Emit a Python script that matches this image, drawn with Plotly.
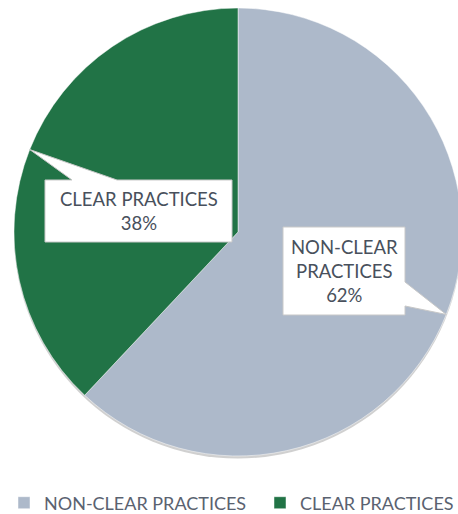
import math
import plotly.graph_objects as go

# ---- data ----
categories = ["NON-CLEAR PRACTICES", "CLEAR PRACTICES"]
values = [62, 38]
label_lines = [["NON-CLEAR", "PRACTICES"], ["CLEAR PRACTICES"]]
colors = ["#ADB9CA", "#217346"]

# ---- layout constants (pixels) ----
W, H = 540, 514
CX, CY, R = 238, 232, 224
FONT = "Lato"
TXT = "#48505C"

def px(x):
    return x / W

def py(y):
    return 1 - y / H

fig = go.Figure()
fig.add_trace(go.Pie(
    labels=categories, values=values, sort=False, direction="clockwise",
    rotation=0, marker=dict(colors=colors, line=dict(color="rgba(255,255,255,0.6)", width=0.8)),
    textinfo="none", hoverinfo="label+percent",
    domain=dict(x=[px(CX - R), px(CX + R)], y=[py(CY + R), py(CY - R)]),
))

# callout boxes (pixel layout): x0, x1, y0, y1, pointer base side
boxes = [
    dict(x0=283, x1=405, y0=227, y1=315, side="right", b0=282, b1=306),
    dict(x0=45, x1=232, y0=180, y1=242, side="top", b0=72, b1=117),
]

shapes = []
# subtle shadow
shapes.append(dict(type="circle", xref="paper", yref="paper", layer="below",
                   x0=px(CX - R), x1=px(CX + R), y0=py(CY + R + 2.5), y1=py(CY - R + 2.5),
                   fillcolor="rgba(150,150,150,0.45)", line=dict(width=0)))

annotations = []
total = sum(values)
cum = 0
for i, v in enumerate(values):
    mid = (cum + v / 2) / total * 2 * math.pi
    cum += v
    tx = CX + R * math.sin(mid)
    ty = CY - R * math.cos(mid)
    b = boxes[i]
    x0, x1, y0, y1 = b["x0"], b["x1"], b["y0"], b["y1"]
    if b["side"] == "right":
        pts = [(x0, y0), (x1, y0), (x1, b["b0"]), (tx, ty), (x1, b["b1"]), (x1, y1), (x0, y1)]
    else:
        pts = [(x0, y0), (b["b0"], y0), (tx, ty), (b["b1"], y0), (x1, y0), (x1, y1), (x0, y1)]
    path = "M " + " L ".join(f"{px(a):.5f},{py(c):.5f}" for a, c in pts) + " Z"
    shapes.append(dict(type="path", xref="paper", yref="paper", path=path,
                       fillcolor="white", line=dict(color="#C8C8C8", width=1)))
    pct = f"{round(v / total * 100)}%"
    text = "<br>".join(label_lines[i] + [pct])
    annotations.append(dict(xref="paper", yref="paper", x=px((x0 + x1) / 2), y=py((y0 + y1) / 2),
                            xanchor="center", yanchor="middle", showarrow=False, text=text,
                            align="center", font=dict(family=FONT, size=18.5, color=TXT)))

fig.update_layout(
    width=W, height=H, margin=dict(l=0, r=0, t=0, b=0, autoexpand=False),
    paper_bgcolor="white", plot_bgcolor="white",
    showlegend=True,
    legend=dict(orientation="h", x=px(4), xanchor="left", y=py(503), yanchor="middle",
                font=dict(family=FONT, size=18, color="#5A6270"), entrywidth=211,
                traceorder="normal"),
    shapes=shapes, annotations=annotations,
)

fig.write_html("out.html", config={"displayModeBar": False},
               post_script="document.body.style.margin='0';document.body.style.overflow='hidden';")
